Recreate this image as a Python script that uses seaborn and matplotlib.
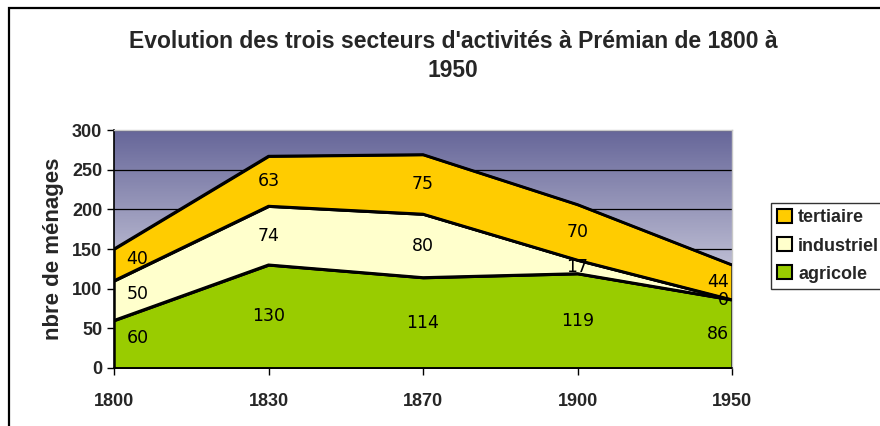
import numpy as np
import pandas as pd
import seaborn as sns
import matplotlib.pyplot as plt
from matplotlib.patches import Patch, Rectangle
from matplotlib.colors import LinearSegmentedColormap

years = ["1800", "1830", "1870", "1900", "1950"]
agricole = [60, 130, 114, 119, 86]
industriel = [50, 74, 80, 17, 0]
tertiaire = [40, 63, 75, 70, 44]

series_names = ["agricole", "industriel", "tertiaire"]
colors = {"agricole": "#99CC00", "industriel": "#FFFFCC", "tertiaire": "#FFCC00"}

sns.set_theme(style="white")
plt.rcParams["font.family"] = ["Liberation Sans", "DejaVu Sans"]

df = pd.DataFrame({"annee": years, "agricole": agricole,
                   "industriel": industriel, "tertiaire": tertiaire})
df["x"] = range(len(df))
cum = df[series_names].cumsum(axis=1)

fig = plt.figure(figsize=(8.8, 4.26), dpi=100)
ax = fig.add_axes([114 / 880, 1 - 368 / 426, (732 - 114) / 880, (368 - 130) / 426])

# gradient background
cmap = LinearSegmentedColormap.from_list("bg", ["#FFFFFF", "#666699"])
grad = np.linspace(0, 1, 256).reshape(-1, 1)
ax.imshow(grad, cmap=cmap, aspect="auto", origin="lower",
          extent=[0, len(years) - 1, 0, 300], zorder=0)

for yv in range(50, 301, 50):
    ax.axhline(yv, color="black", lw=0.9, zorder=1)

ax.stackplot(df["x"], df["agricole"], df["industriel"], df["tertiaire"],
             colors=[colors[s] for s in series_names],
             edgecolor="black", linewidth=1.8, zorder=2)

for s in series_names:
    sns.lineplot(x=df["x"], y=cum[s], color="black", lw=2, ax=ax, zorder=3)

# data labels in the middle of each band
lower = cum.shift(1, axis=1).fillna(0)
n = len(years)
for s in series_names:
    for i in range(n):
        mid = (lower[s][i] + cum[s][i]) / 2
        if i == 0:
            xx, ha, mid = 0.08, "left", mid + 8
        elif i == n - 1:
            xx, ha = n - 1 - 0.02, "right"
        else:
            xx, ha = i, "center"
        ax.text(xx, mid, str(df[s][i]), ha=ha, va="center", fontsize=12.5,
                family="DejaVu Sans", color="black", zorder=4)

ax.set_xlim(0, n - 1)
ax.set_ylim(0, 300)
ax.set_xticks(range(n))
ax.set_xticklabels(years, fontsize=13, fontweight="bold")
ax.set_yticks(range(0, 301, 50))
ax.set_yticklabels([str(v) for v in range(0, 301, 50)], fontsize=13, fontweight="bold")
ax.tick_params(axis="both", direction="out", length=5, width=1, color="black",
               bottom=True, left=True)
ax.tick_params(axis="x", pad=13)
ax.set_xlabel("")
ax.set_ylabel("nbre de ménages", fontsize=16, fontweight="bold", labelpad=6)
for side in ["left", "bottom"]:
    ax.spines[side].set_color("black")
    ax.spines[side].set_linewidth(1.2)
for side in ["top", "right"]:
    ax.spines[side].set_color("#C8C8C8")
    ax.spines[side].set_linewidth(1)

fig.text(0.515, 1 - 56 / 426, "Evolution des trois secteurs d'activités à Prémian de 1800 à\n1950",
         ha="center", va="center", fontsize=16.5, fontweight="bold", linespacing=1.3)

handles = [Patch(facecolor=colors[s], edgecolor="black", linewidth=1.5, label=s)
           for s in ["tertiaire", "industriel", "agricole"]]
leg = fig.legend(handles=handles, loc="upper left",
                 bbox_to_anchor=(771 / 880, 1 - 203 / 426),
                 prop={"size": 13, "weight": "bold"}, frameon=True,
                 fancybox=False, handlelength=0.8, handleheight=0.8,
                 handletextpad=0.35, borderpad=0.35, labelspacing=0.6,
                 borderaxespad=0)
leg.get_frame().set_edgecolor("black")
leg.get_frame().set_linewidth(1)

fig.patches.append(Rectangle((9 / 880, -0.1), 1.2, 1.1 - 8 / 426,
                             transform=fig.transFigure, fill=False,
                             edgecolor="black", lw=1.6))

fig.savefig("out.png", dpi=100)
